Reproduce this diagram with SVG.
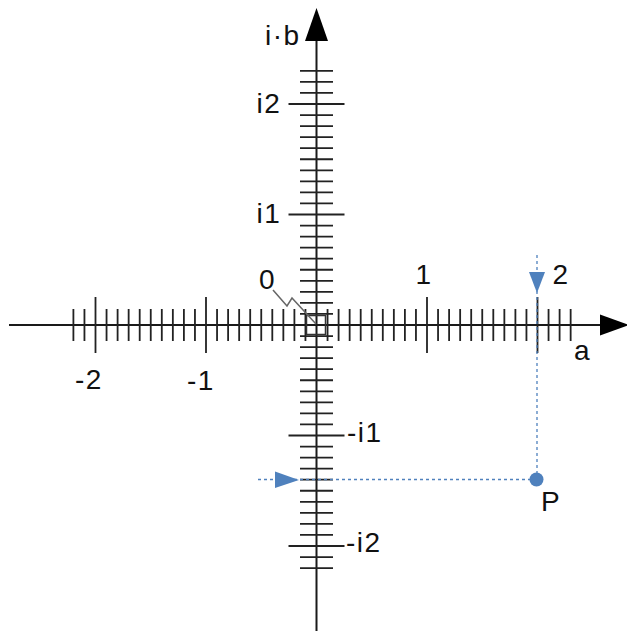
<svg xmlns="http://www.w3.org/2000/svg" width="627" height="631" viewBox="0 0 627 631">
<style>
.ax{stroke:#1a1a1a;stroke-width:2;fill:none}
.tk{stroke:#222;stroke-width:1.8;fill:none}
.lb{font-family:"Liberation Sans",Arial,sans-serif;font-size:28px;fill:#111;letter-spacing:1.5px}
.dot{stroke:#4f81bd;stroke-width:1.3;stroke-dasharray:3 3;fill:none}
.bl{fill:#4f81bd}
</style>
<rect width="627" height="631" fill="#fff"/>
<g id="axes">
<path class="ax" d="M9 325H602M316.5 631V40"/>
<polygon points="316.5,8 305,41 328,41" fill="#000"/>
<polygon points="600,314.5 600,335.5 629,325" fill="#000"/>
</g>
<g id="ticks-x" class="tk">
<path d="M73.4 309V341M84.45 309V341M106.55 309V341M117.6 309V341M128.65 309V341M139.7 309V341M150.75 309V341M161.8 309V341M172.85 309V341M183.9 309V341M194.95 309V341M217.05 309V341M228.1 309V341M239.15 309V341M250.2 309V341M261.25 309V341M272.3 309V341M283.35 309V341M294.4 309V341M305.45 309V341M327.55 309V341M338.6 309V341M349.65 309V341M360.7 309V341M371.75 309V341M382.8 309V341M393.85 309V341M404.9 309V341M415.95 309V341M438.05 309V341M449.1 309V341M460.15 309V341M471.2 309V341M482.25 309V341M493.3 309V341M504.35 309V341M515.4 309V341M526.45 309V341M548.55 309V341M559.6 309V341M570.65 309V341"/>
<path d="M95.5 297V353M206 297V353M427 297V353M537.5 297V353"/>
</g>
<g id="ticks-y" class="tk">
<path d="M300 70.85H333M300 81.9H333M300 92.95H333M300 115.05H333M300 126.1H333M300 137.15H333M300 148.2H333M300 159.25H333M300 170.3H333M300 181.35H333M300 192.4H333M300 203.45H333M300 225.55H333M300 236.6H333M300 247.65H333M300 258.7H333M300 269.75H333M300 280.8H333M300 291.85H333M300 302.9H333M300 313.95H333M300 336.05H333M300 347.1H333M300 358.15H333M300 369.2H333M300 380.25H333M300 391.3H333M300 402.35H333M300 413.4H333M300 424.45H333M300 446.55H333M300 457.6H333M300 468.65H333M300 479.7H333M300 490.75H333M300 501.8H333M300 512.85H333M300 523.9H333M300 534.95H333M300 557.05H333M300 568.1H333"/>
<path d="M288.5 104H344.5M288.5 214.5H344.5M288.5 435.5H344.5M288.5 546H344.5"/>
</g>
<g id="origin">
<rect x="306.5" y="315.5" width="19" height="19" fill="none" stroke="#333" stroke-width="1.5"/>
<polyline points="273,290 287,306 292,298 316,324" fill="none" stroke="#666" stroke-width="1.5"/>
<text class="lb" x="259" y="289">0</text>
</g>
<g id="labels">
<text class="lb" x="265" y="45">i·b</text>
<text class="lb" x="256.5" y="113">i2</text>
<text class="lb" x="256.5" y="223">i1</text>
<text class="lb" x="415.5" y="284">1</text>
<text class="lb" x="552.5" y="284">2</text>
<text class="lb" x="574" y="360">a</text>
<text class="lb" x="75" y="389">-2</text>
<text class="lb" x="187" y="390">-1</text>
<text class="lb" x="347" y="442">-i1</text>
<text class="lb" x="346" y="552">-i2</text>
</g>
<g id="connectors">
<path class="dot" d="M537 255V479M258 479.5H537"/>
<polygon class="bl" points="529,272 545,272 537,293"/>
<polygon class="bl" points="275,471.5 275,488 299,480"/>
</g>
<g id="point-P">
<circle class="bl" cx="536.5" cy="479.5" r="7"/>
<text class="lb" x="541" y="511">P</text>
</g>
</svg>
